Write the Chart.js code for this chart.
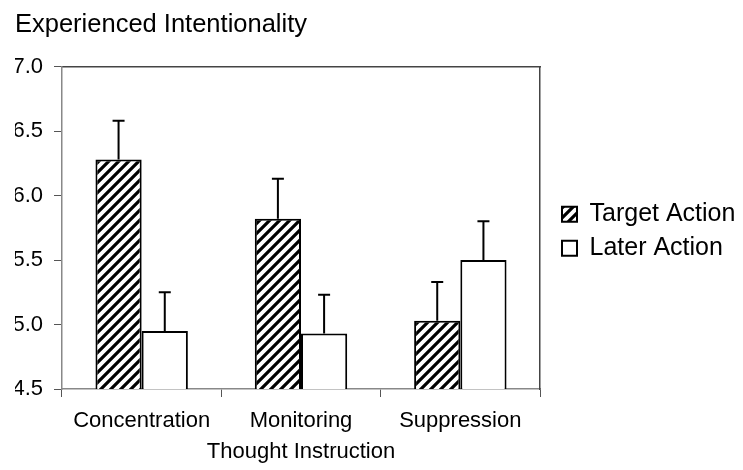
<!DOCTYPE html>
<html>
<head>
<meta charset="utf-8">
<script src="https://cdn.jsdelivr.net/npm/chart.js@4"></script>
<style>
  body { margin: 0; background: #fff; }
  #wrap { width: 743px; height: 470px; }
</style>
</head>
<body>
<div id="wrap"><canvas id="myc" width="743" height="470"></canvas></div>
<script>
// values
var categories = ["Concentration", "Monitoring", "Suppression"];
var targetMeans = [6.28, 5.82, 5.03];
var targetErr = [0.30, 0.31, 0.30];
var laterMeans = [4.95, 4.93, 5.50];
var laterErr = [0.30, 0.30, 0.30];
var yTicks = [4.5, 5.0, 5.5, 6.0, 6.5, 7.0];

var FONT = "'Liberation Sans', Arial, sans-serif";

// diagonal hatch for the target bars
function hatch() {
  var c = document.createElement("canvas");
  c.width = 10; c.height = 10;
  var g = c.getContext("2d");
  g.fillStyle = "#fff";
  g.fillRect(0, 0, 10, 10);
  g.strokeStyle = "#000";
  g.lineWidth = 3.2;
  g.beginPath();
  g.moveTo(-2, 12); g.lineTo(12, -2);
  g.moveTo(-2, 2); g.lineTo(2, -2);
  g.moveTo(8, 12); g.lineTo(12, 8);
  g.stroke();
  return g.createPattern(c, "repeat");
}

// error bars (upper half only)
var errorBars = {
  id: "errorBars",
  afterDatasetsDraw: function(chart) {
    var ctx = chart.ctx;
    var ys = chart.scales.y;
    ctx.save();
    ctx.strokeStyle = "#000";
    ctx.lineWidth = 2;
    chart.data.datasets.forEach(function(ds, i) {
      var meta = chart.getDatasetMeta(i);
      meta.data.forEach(function(bar, j) {
        var top = ys.getPixelForValue(ds.data[j] + ds.errors[j]);
        ctx.beginPath();
        ctx.moveTo(bar.x, bar.y);
        ctx.lineTo(bar.x, top);
        ctx.moveTo(bar.x - 6, top);
        ctx.lineTo(bar.x + 6, top);
        ctx.stroke();
      });
    });
    ctx.restore();
  }
};

// let the legend text run to the canvas edge instead of being clipped
var wideLegend = {
  id: "wideLegend",
  afterLayout: function(chart) {
    var lg = chart.legend;
    if (!lg) return;
    lg.right = chart.width;
    lg.width = lg.right - lg.left;
  }
};

var config = {
  type: "bar",
  data: {
    labels: categories,
    datasets: [{
      label: "Target Action",
      data: targetMeans,
      errors: targetErr,
      backgroundColor: hatch(),
      borderColor: "#000",
      borderWidth: 2,
      borderSkipped: false,
      categoryPercentage: 0.58,
      barPercentage: 1.0
    }, {
      label: "Later Action",
      data: laterMeans,
      errors: laterErr,
      backgroundColor: "#fff",
      borderColor: "#000",
      borderWidth: 2,
      borderSkipped: false,
      categoryPercentage: 0.58,
      barPercentage: 1.0
    }]
  },
  options: {
    responsive: false,
    animation: false,
    devicePixelRatio: 1,
    layout: { padding: { left: 15, right: 82.4, top: 0, bottom: 7.5 } },
    plugins: {
      tooltip: { enabled: false },
      title: {
        display: true,
        text: "Experienced Intentionality",
        align: "start",
        color: "#000",
        font: { family: FONT, size: 25.5, weight: "normal" },
        padding: { top: 10, bottom: 26 }
      },
      legend: {
        position: "right",
        align: "center",
        labels: {
          color: "#000",
          font: { family: FONT, size: 25 },
          boxWidth: 15,
          boxHeight: 15,
          padding: 9
        }
      }
    },
    scales: {
      x: {
        type: "category",
        offset: true,
        grid: { offset: true, drawOnChartArea: false, drawTicks: true, tickLength: 8, color: "#555" },
        border: { color: "#888", width: 1.5 },
        ticks: { color: "#000", font: { family: FONT, size: 22, lineHeight: 1.0 }, padding: 13 },
        title: {
          display: true,
          text: "Thought Instruction",
          color: "#000",
          font: { family: FONT, size: 22, lineHeight: 1.0 },
          padding: { top: 0, bottom: 0 }
        },
        afterFit: function(a) { a.height = 73.5; }
      },
      x2: {
        type: "category",
        position: "top",
        grid: { display: true, drawOnChartArea: false, drawTicks: false },
        border: { color: "#444", width: 1.5 },
        ticks: { display: false },
        afterFit: function(a) { a.height = 0; }
      },
      y: {
        min: 4.5,
        max: 7.0,
        afterBuildTicks: function(a) { a.ticks = yTicks.map(function(v) { return { value: v }; }); },
        grid: { drawOnChartArea: false, drawTicks: true, tickLength: 8, color: "#555" },
        border: { color: "#888", width: 1.5 },
        ticks: {
          color: "#000",
          font: { family: FONT, size: 22 },
          padding: 11,
          callback: function(v) { return Number(v).toFixed(1); }
        },
        afterFit: function(a) { a.width = 47; }
      },
      y2: {
        position: "right",
        min: 4.5,
        max: 7.0,
        grid: { display: true, drawOnChartArea: false, drawTicks: false },
        border: { color: "#444", width: 1.5 },
        ticks: { display: false },
        afterFit: function(a) { a.width = 13; }
      }
    }
  },
  plugins: [errorBars, wideLegend]
};

var myChart = new Chart(document.getElementById("myc").getContext("2d"), config);
</script>
</body>
</html>
